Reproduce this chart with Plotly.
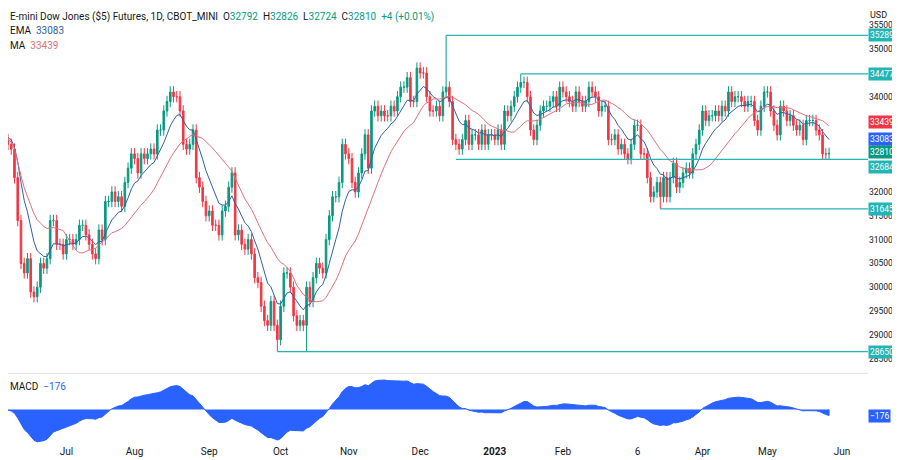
import plotly.graph_objects as go
import pandas as pd
import numpy as np

closes = [33200,
33100,33000,32900,32300,31400, 30500,30300,30600,29900,29800, 30000,30500,30400,30600,31400,
31400,30900,30900,30700,31000, 31000,30900,31000,31300,31300, 31100,30900,30700,30600,31200,
31000,31800,31800,32000,31800, 31900,31700,32200,32500,32800, 32700,32400,32800,32700,32800,
32900,32800,33300,33300,33700, 33900,34100,34000,34000,33700, 33000,32900,33000,33300,32300,
32100,31800,31500,31600,31300, 31300,31100,31600,31700,32100, 32400,31100,31200,30900,30800,
31000,30700,30200,30100,29600, 29300,29200,29700,29200,28900, 29600,30300,30300,30000,29400,
29200,29300,29200,30000,29700, 30200,30500,30400,30300,31000, 31500,31900,31900,32200,33000,
32800,32700,32200,32000,32400, 32800,33200,32500,33700,33800, 33600,33700,33600,33600,33800,
33700,34000,34200,34200,34400, 33900,33900,34600,34500,34500, 34000,33700,33700,33800,33600,
34100,34200,33900,33100,33000, 32900,33100,33500,33000,33200, 33200,33000,33300,33000,33200,
33200,33100,33300,33000,33700, 33600,33800,34000,34200,34300, 34300,34000,33300,33100,33400,
33700,33800,33800,33900,34000, 33800,34200,34100,34000,33900, 33800,34100,33900,33800,33900,
34200,34100,34000,33700,33800, 33800,33100,33100,33200,32900, 33000,32800,32700,33000,33400,
33400,32800,32800,32300,31900, 32000,32200,31900,32300,31900, 32300,32600,32100,32200,32400,
32500,32400,32800,33000,33300, 33700,33500,33600,33600,33700, 33600,33800,33700,34100,33900,
34000,34000,33900,33800,33900, 33900,33500,33300,33800,34100, 34100,33700,33400,33200,33800,
33700,33500,33600,33400,33300, 33400,33100,33500,33500,33500, 33300,33200,32800,32800,32810]
dates = pd.bdate_range("2022-06-03", periods=len(closes))
high_over = {"2022-12-13": 35289, "2023-01-13": 34477}
low_over = {"2022-10-13": 28650, "2022-09-30": 28650, "2023-03-15": 31645}

levels = [(35289, "2022-12-13"), (34477, "2023-01-13"), (32684, "2022-12-16"),
          (31645, "2023-03-15"), (28650, "2022-09-30")]

c = pd.Series(closes, index=dates, dtype=float)
o = c.shift(1).fillna(c.iloc[0])
hi = np.maximum(o, c) + 120
lo = np.minimum(o, c) - 120
for d, v in high_over.items():
    hi[pd.Timestamp(d)] = v
for d, v in low_over.items():
    lo[pd.Timestamp(d)] = v

ema = c.ewm(span=9, adjust=False).mean()
ma = c.rolling(20, min_periods=1).mean()
macd = c.ewm(span=12, adjust=False).mean() - c.ewm(span=26, adjust=False).mean()

fig = go.Figure()
fig.add_trace(go.Candlestick(x=dates, open=o, high=hi, low=lo, close=c,
    increasing=dict(line=dict(color="#089981", width=1), fillcolor="#089981"),
    decreasing=dict(line=dict(color="#f23645", width=1), fillcolor="#f23645"),
    whiskerwidth=0, yaxis="y"))
fig.add_trace(go.Scatter(x=dates, y=ema, mode="lines", line=dict(color="#2e5fa8", width=1)))
fig.add_trace(go.Scatter(x=dates, y=ma, mode="lines", line=dict(color="#e0707a", width=1)))
end = "2023-06-13"
for v, d in levels:
    fig.add_trace(go.Scatter(x=[d, end], y=[v, v], mode="lines",
                             line=dict(color="#22b5b5", width=1.3)))
fig.add_trace(go.Scatter(x=[dates[0]] + list(dates) + [dates[-1]], y=[0] + list(macd) + [0],
    mode="lines", fill="toself", fillcolor="#2962ff", line=dict(color="#2962ff", width=1), yaxis="y2"))

labels = [(35289, "#22b5b5", 0), (34477, "#22b5b5", 0), (33439, "#f23645", 1), (33083, "#2962ff", 1),
          (32810, "#089981", 1), (32684, "#22b5b5", -8), (31645, "#22b5b5", 0), (28650, "#22b5b5", 0)]
for v, col, sh in labels:
    fig.add_annotation(x=1.0, xref="paper", xanchor="left", y=v, yref="y", yshift=sh, text=str(v),
                       showarrow=False, bgcolor=col, font=dict(color="white", size=8.5), borderpad=1)
fig.add_annotation(x=1.0, xref="paper", xanchor="left", y=-176, yref="y2", text="−176",
                   showarrow=False, bgcolor="#2962ff", font=dict(color="white", size=8.5), borderpad=1)

hdr = [("E-mini Dow Jones ($5) Futures, 1D, CBOT_MINI  O<span style='color:#089981'>32792</span>  H<span style='color:#089981'>32826</span>  L<span style='color:#089981'>32724</span>  C<span style='color:#089981'>32810  +4 (+0.01%)</span>", 1.0),
       ("EMA  <span style='color:#2e5fa8'>33083</span>", 0.966),
       ("MA  <span style='color:#e0707a'>33439</span>", 0.932)]
for t, yy in hdr:
    fig.add_annotation(x=0.0, xref="paper", xanchor="left", y=yy, yref="paper", yanchor="top",
                       text=t, showarrow=False, font=dict(size=10, color="#131722"))
fig.add_annotation(x=0.0, xref="paper", xanchor="left", y=0.15, yref="paper", yanchor="top",
                   text="MACD  <span style='color:#2962ff'>−176</span>", showarrow=False,
                   font=dict(size=10, color="#131722"))
fig.add_annotation(x=1.0, xref="paper", xanchor="left", y=1.0, yref="paper", yanchor="top",
                   text="USD", showarrow=False, font=dict(size=9, color="#131722"))

tv = ["2022-07-01", "2022-08-01", "2022-09-01", "2022-10-03", "2022-11-01", "2022-12-01",
      "2023-01-03", "2023-02-01", "2023-03-06", "2023-04-03", "2023-05-01", "2023-06-01"]
tt = ["Jul", "Aug", "Sep", "Oct", "Nov", "Dec", "<b>2023</b>", "Feb", "6", "Apr", "May", "Jun"]
fig.update_layout(width=900, height=460, margin=dict(l=0, r=40, t=0, b=24),
    paper_bgcolor="white", plot_bgcolor="white", showlegend=False,
    font=dict(family="Roboto", size=10, color="#131722"),
    xaxis=dict(type="date", range=["2022-06-07", end], rangeslider=dict(visible=False),
               rangebreaks=[dict(bounds=["sat", "mon"])], tickvals=tv, ticktext=tt,
               showgrid=False, ticks="", anchor="y2", tickfont=dict(size=10)),
    yaxis=dict(domain=[0.17, 1], range=[28265, 35862], side="right", dtick=500,
               tickformat="d", showgrid=False, ticks="", tickfont=dict(size=8.5)),
    yaxis2=dict(domain=[0, 0.15], range=[-900, 800], side="right", showgrid=False,
                showticklabels=False, zeroline=False),
    shapes=[dict(type="line", xref="paper", yref="paper", x0=0, x1=1, y0=0.162, y1=0.162,
                 line=dict(color="#e0e3eb", width=1))])
fig.write_html("out.html")
